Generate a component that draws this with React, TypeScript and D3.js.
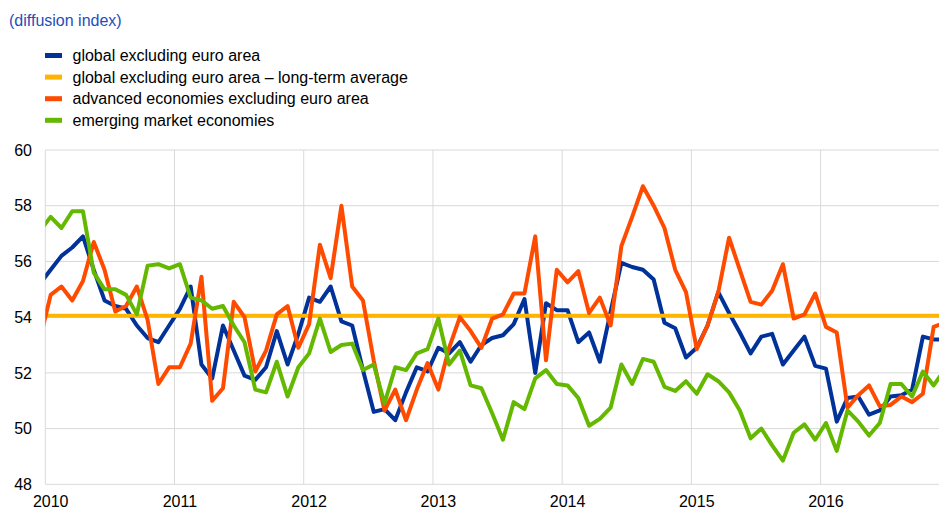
import React from "react";
import * as d3 from "d3";

// x axis: one label per year, y axis: diffusion index ticks
const years = ["2010", "2011", "2012", "2013", "2014", "2015", "2016"];
const yTicks = [48, 50, 52, 54, 56, 58, 60];

// monthly values, Dec 2009 .. Dec 2016 (first and last are clipped by the plot edges)
const globalExEA = [
  55.2,
  55.7, 56.2, 56.5, 56.9, 55.7, 54.6, 54.4, 54.3, 53.7, 53.25, 53.1, 53.7,
  54.3, 55.1, 52.3, 51.8, 53.7, 52.8, 51.9, 51.75, 52.2, 53.5, 52.3, 53.4,
  54.7, 54.55, 55.1, 53.85, 53.7, 52.1, 50.6, 50.7, 50.3, 51.3, 52.2, 52.05,
  52.9, 52.7, 53.1, 52.4, 53.0, 53.25, 53.35, 53.75, 54.65, 52.0, 54.5, 54.25,
  54.25, 53.1, 53.45, 52.4, 54.2, 55.95, 55.8, 55.7, 55.35, 53.8, 53.6, 52.55,
  52.9, 53.7, 54.9, 54.15, 53.45, 52.7, 53.3, 53.4, 52.3, 52.8, 53.3, 52.25,
  52.15, 50.25, 51.1, 51.15, 50.5, 50.65, 51.15, 51.2, 51.4, 53.3, 53.2, 53.2,
];
const advancedExEA = [
  53.2,
  54.8, 55.1, 54.6, 55.3, 56.7, 55.7, 54.2, 54.4, 55.1, 53.9, 51.6, 52.2,
  52.2, 53.05, 55.45, 51.0, 51.45, 54.55, 54.0, 52.05, 52.8, 54.1, 54.4, 52.9,
  53.75, 56.6, 55.4, 58.0, 55.1, 54.6, 52.45, 50.65, 51.4, 50.3, 51.4, 52.35,
  51.4, 52.9, 54.0, 53.5, 52.9, 53.95, 54.1, 54.85, 54.85, 56.9, 52.45, 55.7,
  55.25, 55.65, 54.15, 54.7, 53.7, 56.55, 57.6, 58.7, 58.0, 57.2, 55.7, 54.9,
  52.85, 53.7, 54.9, 56.85, 55.7, 54.55, 54.45, 54.95, 55.9, 53.95, 54.1, 54.85,
  53.65, 53.45, 50.75, 51.2, 51.55, 50.8, 50.85, 51.15, 50.95, 51.25, 53.65, 53.8,
];
const emerging = [
  57.1,
  57.6, 57.2, 57.8, 57.8, 55.6, 55.0, 55.0, 54.8, 54.1, 55.85, 55.9, 55.75,
  55.9, 54.7, 54.6, 54.3, 54.4, 53.7, 53.1, 51.4, 51.3, 52.4, 51.15, 52.2,
  52.7, 53.95, 52.75, 53.0, 53.05, 52.1, 52.3, 50.9, 52.2, 52.1, 52.7, 52.85,
  53.95, 52.3, 52.8, 51.55, 51.45, 50.55, 49.6, 50.95, 50.7, 51.8, 52.1, 51.6,
  51.55, 51.1, 50.1, 50.35, 50.75, 52.3, 51.6, 52.5, 52.4, 51.5, 51.35, 51.7,
  51.25, 51.95, 51.7, 51.3, 50.65, 49.65, 50.0, 49.4, 48.85, 49.85, 50.15, 49.6,
  50.2, 49.2, 50.65, 50.25, 49.75, 50.2, 51.6, 51.6, 51.15, 52.05, 51.55, 52.1,
];
const longTermAvg = 54.05;

const legendLabels = [
  "global excluding euro area",
  "global excluding euro area \u2013 long-term average",
  "advanced economies excluding euro area",
  "emerging market economies",
];
const colors = ["#003299", "#ffb400", "#ff4b00", "#65b800"];

const width = 939;
const height = 511;
const font = "'Liberation Sans', Arial, sans-serif";

export default function App() {
  // months counted from Jan 2010; 84 months = 7 years
  const x = d3.scaleLinear().domain([0, 84]).range([45.3, 949.8]);
  const y = d3.scaleLinear().domain([48, 60]).range([484.3, 150]);
  const left = 45.3;
  const right = width;

  // values sit in the middle of their month, index 0 is Dec 2009
  const line = d3
    .line<number>()
    .x((_, i) => x(i - 0.5))
    .y((d) => y(d));

  const avg = [longTermAvg, longTermAvg];
  const avgLine = d3
    .line<number>()
    .x((_, i) => (i === 0 ? left : right))
    .y((d) => y(d));

  const paths = [
    { d: line(globalExEA), c: colors[0] },
    { d: avgLine(avg), c: colors[1] },
    { d: line(advancedExEA), c: colors[2] },
    { d: line(emerging), c: colors[3] },
  ];

  return (
    <svg
      width={width}
      height={height}
      style={{ position: "absolute", left: 0, top: 0, background: "#fff" }}
      fontFamily={font}
    >
      <defs>
        <clipPath id="plot">
          <rect x={left} y={0} width={right - left} height={height} />
        </clipPath>
      </defs>

      <text x={9} y={26} fontSize={16} fill="#1f4eb8">
        (diffusion index)
      </text>

      {legendLabels.map((l, i) => (
        <g key={l} transform={`translate(0, ${61 + i * 21.6})`}>
          <rect x={45} y={-8} width={17} height={5} fill={colors[i]} />
          <text x={72.5} y={0} fontSize={16} fill="#000">
            {l}
          </text>
        </g>
      ))}

      {/* grid */}
      {yTicks.map((t) => (
        <g key={t}>
          <line x1={left} x2={right} y1={y(t)} y2={y(t)} stroke="#d9d9d9" strokeWidth={1} />
          <text x={32} y={y(t) + 5.7} fontSize={16} textAnchor="end" fill="#000">
            {t}
          </text>
        </g>
      ))}
      {years.map((yr, i) => (
        <g key={yr}>
          <line
            x1={x(i * 12)}
            x2={x(i * 12)}
            y1={y(60)}
            y2={y(48)}
            stroke="#d9d9d9"
            strokeWidth={1}
          />
          <text x={x(i * 12 + 0.5)} y={507} fontSize={16} textAnchor="middle" fill="#000">
            {yr}
          </text>
        </g>
      ))}

      <g clipPath="url(#plot)">
        {paths.map((p, i) => (
          <path
            key={i}
            d={p.d || ""}
            fill="none"
            stroke={p.c}
            strokeWidth={4}
            strokeLinejoin="round"
          />
        ))}
      </g>
    </svg>
  );
}
